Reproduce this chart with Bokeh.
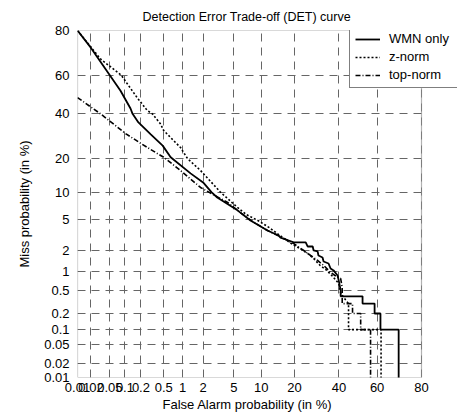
from statistics import NormalDist
from bokeh.plotting import figure
from bokeh.models import Range1d, FixedTicker, Legend, LegendItem, BoxAnnotation, Title
from bokeh.embed import file_html
from bokeh.resources import INLINE

# ---- data (percent) ----
tick_values = [0.01, 0.02, 0.05, 0.1, 0.2, 0.5, 1, 2, 5, 10, 20, 40, 60, 80]
tick_labels = ["0.01", "0.02", "0.05", "0.1", "0.2", "0.5", "1", "2", "5",
               "10", "20", "40", "60", "80"]

wmn_fa = [0.01, 0.02, 0.05, 0.082, 0.128, 0.14, 0.18, 0.3, 0.48, 0.65, 1.32,
          2.0, 2.6, 3.1, 5.5, 7.7, 11.5, 14.6, 15.2, 18.9, 19.7, 24.4, 25.2,
          27.4, 27.8, 29.6, 30.0, 31.9, 32.4, 34.8, 35.8, 37.3, 39.3, 39.9,
          40.9, 40.9, 52.4, 52.4, 58.7, 58.7, 61.7, 61.7, 70.5, 70.5]
wmn_miss = [80, 73, 60, 52, 42.7, 40, 35.7, 30, 25.1, 20.5, 15, 12.4, 10,
            8.8, 6.4, 4.9, 3.7, 3.2, 3.0, 2.67, 2.6, 2.6, 2.29, 2.29, 2.02,
            1.96, 1.72, 1.61, 1.41, 1.32, 1.11, 1.04, 0.87, 0.73, 0.5, 0.4,
            0.4, 0.3, 0.3, 0.2, 0.2, 0.1, 0.1, 0.005]

zn_fa = [0.01, 0.032, 0.085, 0.17, 0.26, 0.32, 0.44, 0.5, 0.93, 1.19, 1.84,
         3.4, 5.5, 7.0, 9.5, 12, 15, 19.3, 22, 25.2, 27.8, 30.7, 34, 37.3,
         39.9, 40.9, 42.5, 44, 45, 45, 62, 62]
zn_miss = [80, 68, 60, 48.4, 41.7, 40, 35, 31.8, 24.3, 20, 15.9, 10, 6.9,
           5.7, 4.8, 4.0, 3.2, 2.44, 2.15, 1.84, 1.56, 1.24, 1.04, 0.81,
           0.65, 0.46, 0.38, 0.33, 0.3, 0.1, 0.1, 0.005]

tn_fa = [0.01, 0.032, 0.103, 0.2, 0.39, 0.5, 0.93, 1.84, 2.9, 4.2, 6, 8,
         11.5, 15, 19.7, 23.6, 26.5, 29.6, 32.4, 35.8, 38, 40.9, 41.7, 41.7,
         47.1, 47.1, 51.4, 51.4, 56.6, 56.6]
tn_miss = [48.4, 40, 30.4, 26, 21.9, 20.5, 15.9, 11.1, 9.2, 7.8, 6, 4.8,
           3.7, 3.1, 2.5, 2.02, 1.72, 1.46, 1.24, 0.97, 0.87, 0.78, 0.56, 0.3,
           0.3, 0.2, 0.2, 0.1, 0.1, 0.005]

ND = NormalDist()


def probit(vals):
    return [round(ND.inv_cdf(v / 100.0), 6) for v in vals]


ticks_z = probit(tick_values)
overrides = {z: lab for z, lab in zip(ticks_z, tick_labels)}

lo, hi = ticks_z[0], ticks_z[-1]
FONT = "Liberation Sans"

# frame spans 77..457 px horizontally; the axes box ends at 421 px (80 %)
BOX_W, FRAME_W = 344.0, 380.0
x_hi = lo + (hi - lo) * FRAME_W / BOX_W

p = figure(width=457, height=416, output_backend="svg", toolbar_location=None,
           x_range=Range1d(lo, x_hi), y_range=Range1d(lo, hi),
           min_border_left=77, min_border_right=0, min_border_top=30,
           min_border_bottom=39)

p.title.text = "Detection Error Trade-off (DET) curve"
p.title.align = "left"
p.title.offset = 65
p.title.standoff = 13
p.title.text_font = FONT
p.title.text_font_size = "12.5px"
p.title.text_font_style = "normal"
p.title.text_color = "black"

for ax in (p.xaxis[0], p.yaxis[0]):
    ax.ticker = FixedTicker(ticks=ticks_z)
    ax.major_label_overrides = overrides
    ax.major_tick_in = 0
    ax.major_tick_out = 0
    ax.minor_tick_in = 0
    ax.minor_tick_out = 0
    ax.axis_line_color = None
    ax.major_label_text_font = FONT
    ax.major_label_text_font_size = "13px"
    ax.major_label_text_color = "black"
    ax.axis_label_text_font = FONT
    ax.axis_label_text_font_size = "13px"
    ax.axis_label_text_font_style = "normal"
    ax.axis_label_text_color = "black"

p.yaxis.axis_label = "Miss probability (in %)"
p.yaxis.major_label_standoff = 8
p.yaxis.axis_label_standoff = 9
p.xaxis.major_label_standoff = 5

xlab = Title(text="False Alarm probability (in %)", align="left", offset=85,
             text_font=FONT, text_font_size="13px", text_font_style="normal",
             text_color="black", standoff=0)
p.add_layout(xlab, "below")

for g in (p.xgrid[0], p.ygrid[0]):
    g.grid_line_color = "#666666"
    g.grid_line_dash = "8 6"
    g.grid_line_width = 1

p.outline_line_color = None
p.background_fill_color = "white"
p.border_fill_color = "white"

r1 = p.line(probit(wmn_fa), probit(wmn_miss), line_color="black", line_width=1.8)
r2 = p.line(probit(zn_fa), probit(zn_miss), line_color="black", line_width=1.6,
            line_dash="2 2")
r3 = p.line(probit(tn_fa), probit(tn_miss), line_color="black", line_width=1.6,
            line_dash="5 2 1 2")

# blank the area right of the axes box, then draw the box itself
p.add_layout(BoxAnnotation(left=hi, fill_color="white", fill_alpha=1,
                           line_color=None))
p.add_layout(BoxAnnotation(left=lo, right=hi, bottom=lo, top=hi,
                           fill_alpha=0, line_color="black", line_width=1.2))

legend = Legend(items=[LegendItem(label="WMN only", renderers=[r1]),
                       LegendItem(label="z-norm", renderers=[r2]),
                       LegendItem(label="top-norm", renderers=[r3])],
                location=(272, 289))
legend.padding = 5
legend.margin = 0
legend.spacing = 3
legend.glyph_height = 12
legend.label_height = 12
legend.glyph_width = 25
legend.label_standoff = 9
legend.label_width = 63
legend.label_text_font = FONT
legend.label_text_font_size = "13px"
legend.label_text_color = "black"
legend.border_line_color = "black"
legend.border_line_width = 1.2
legend.background_fill_color = "white"
legend.background_fill_alpha = 1
p.add_layout(legend, "center")

open("out.html", "w").write(file_html(p, INLINE))
